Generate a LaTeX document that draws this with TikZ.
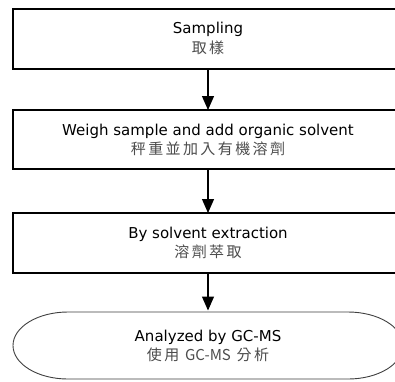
\documentclass[tikz,border=0pt]{standalone}
\usepackage{fontspec}
\setmainfont{DejaVu Sans}
\newfontfamily\cjk[LetterSpace=16]{Noto Sans CJK TC}
\newfontfamily\cjklat{Noto Sans CJK TC}
\usetikzlibrary{arrows.meta}
\begin{document}
\begin{tikzpicture}[x=1pt,y=-1pt,
  stepbox/.style={draw=black, line width=1.2pt, minimum width=390pt, minimum height=60pt, inner sep=0pt, outer sep=0pt},
  endbox/.style={minimum width=390pt, minimum height=67pt, inner sep=0pt, outer sep=0pt},
  en/.style={anchor=base, font=\fontsize{15}{18}\selectfont, inner sep=0pt},
  zh/.style={anchor=base, font=\fontsize{15}{18}\selectfont\cjk, text=black!70, inner sep=0pt},
  flow/.style={line width=1.2pt, -{Triangle[width=12pt,length=14pt]}}]
\clip (0,0) rectangle (395,381);
\fill[white] (0,0) rectangle (395,381);
\node[stepbox] (b1) at (208,39) {};
\node[stepbox, minimum height=59pt] (b2) at (208,139.5) {};
\node[stepbox] (b3) at (208,243) {};
\node[endbox] (d) at (208,345.5) {};
\draw[line width=0.9pt, draw=black!75]
  ([xshift=55pt]d.north west) -- ([xshift=-55pt]d.north east)
  arc[start angle=90, end angle=-90, x radius=55pt, y radius=33.5pt]
  -- ([xshift=55pt]d.south west)
  arc[start angle=270, end angle=90, x radius=55pt, y radius=33.5pt] -- cycle;
\node[en] (e1) at ([yshift=6pt]b1.center) {Sampling};
\node[zh] (c1) at ([yshift=-14.5pt]b1.center) {取樣};
\node[en] (e2) at ([yshift=4.5pt]b2.center) {Weigh sample and add organic solvent};
\node[zh] (c2) at ([yshift=-14.5pt]b2.center) {秤重並加入有機溶劑};
\node[en] (e3) at ([yshift=5pt]b3.center) {By solvent extraction};
\node[zh] (c3) at ([yshift=-14.5pt]b3.center) {溶劑萃取};
\node[en] (e4) at ([yshift=4.5pt]d.center) {Analyzed by GC-MS};
\node[zh] (c4) at ([yshift=-14.5pt]d.center) {使用 {\cjklat GC-MS} 分析};
\draw[flow] (b1.south) -- (b2.north);
\draw[flow] (b2.south) -- (b3.north);
\draw[flow, shorten >=1.5pt] (b3.south) -- (d.north);
\end{tikzpicture}
\end{document}
